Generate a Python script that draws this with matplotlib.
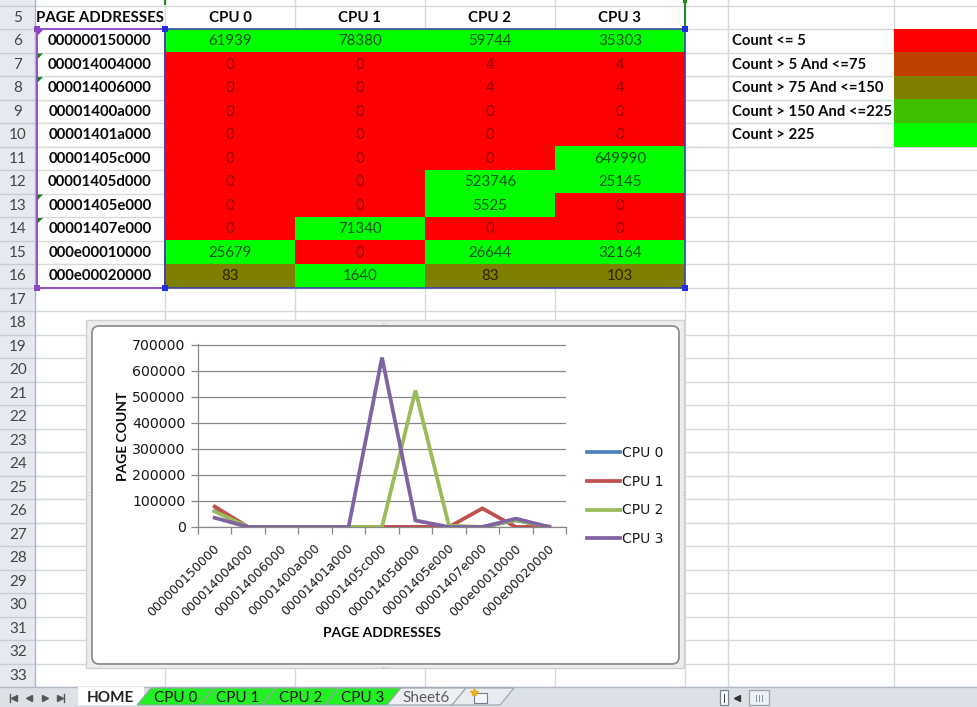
import matplotlib
matplotlib.use("Agg")
import matplotlib.pyplot as plt
from matplotlib.patches import Rectangle, Polygon, FancyBboxPatch
import matplotlib.transforms as mtransforms

# ---------------- data ----------------
addresses = ["000000150000", "000014004000", "000014006000", "00001400a000",
             "00001401a000", "00001405c000", "00001405d000", "00001405e000",
             "00001407e000", "000e00010000", "000e00020000"]
cpu_names = ["CPU 0", "CPU 1", "CPU 2", "CPU 3"]
cpu0 = [61939, 0, 0, 0, 0, 0, 0, 0, 0, 25679, 83]
cpu1 = [78380, 0, 0, 0, 0, 0, 0, 0, 71340, 0, 1640]
cpu2 = [59744, 4, 4, 0, 0, 0, 523746, 5525, 0, 26644, 83]
cpu3 = [35303, 4, 4, 0, 0, 649990, 25145, 0, 0, 32164, 103]
cpu_values = [cpu0, cpu1, cpu2, cpu3]
line_colors = ["#4F81BD", "#C0504D", "#9BBB59", "#8064A2"]

band_labels = ["Count <= 5", "Count > 5 And <=75", "Count > 75 And <=150",
               "Count > 150 And <=225", "Count > 225"]
band_upper = [5, 75, 150, 225]
band_colors = ["#FF0000", "#C04000", "#808000", "#40BF00", "#00FF00"]
band_text = ["#8A0000", "#4A1800", "#262600", "#124000", "#145214"]

y_ticks = [0, 100000, 200000, 300000, 400000, 500000, 600000, 700000]
sheet_tabs = ["HOME", "CPU 0", "CPU 1", "CPU 2", "CPU 3", "Sheet6"]
tab_colors = ["#FFFFFF", "#22F022", "#22F022", "#22F022", "#22F022", "#EEF0F3"]

FONT = "Lato"
CELL_FS = 10.8


def band_of(v):
    for i, up in enumerate(band_upper):
        if v <= up:
            return i
    return len(band_upper)


W, H = 977, 707
fig = plt.figure(figsize=(W / 100, H / 100), dpi=100)
bg = fig.add_axes([0, 0, 1, 1])
bg.set_xlim(0, W)
bg.set_ylim(H, 0)
bg.axis("off")

# ---------------- sheet grid ----------------
ROW_H = 23.5


def row_top(r):
    return 29 + (r - 6) * ROW_H


col_edges = [35, 165, 295, 425, 555, 685, 728, 894]
grid_c = "#D5D8DC"
sheet_bottom = row_top(34)

bg.add_patch(Rectangle((0, 0), 35, sheet_bottom, facecolor="#E6EAF0",
                       edgecolor="none", zorder=0))
for r in range(5, 35):
    y = row_top(r)
    bg.plot([35, W], [y, y], color=grid_c, lw=1, zorder=1)
    bg.plot([0, 35], [y, y], color="#C6CDD7", lw=1, zorder=1)
for x in col_edges[1:]:
    bg.plot([x, x], [0, sheet_bottom], color=grid_c, lw=1, zorder=1)
bg.plot([35, 35], [0, sheet_bottom], color="#AAB4C2", lw=1, zorder=1)
for r in range(5, 34):
    bg.text(18, row_top(r) + ROW_H / 2 + 0.5, str(r), ha="center", va="center",
            fontsize=11, family=FONT, color="#444444", zorder=2)

# header row
hy = row_top(5) + ROW_H / 2 + 0.5
bg.text(100, hy, "PAGE ADDRESSES", ha="center", va="center", fontsize=CELL_FS,
        family=FONT, weight="bold", color="#0A0A0A", zorder=3)
for j, name in enumerate(cpu_names):
    cx = (col_edges[j + 1] + col_edges[j + 2]) / 2
    bg.text(cx, hy, name, ha="center", va="center", fontsize=CELL_FS,
            family=FONT, weight="bold", color="#0A0A0A", zorder=3)

# address column + coloured count cells
for i, addr in enumerate(addresses):
    r = 6 + i
    y0 = row_top(r)
    bg.text(100, y0 + ROW_H / 2 + 0.5, addr, ha="center", va="center",
            fontsize=CELL_FS, family=FONT, weight="bold", color="#0A0A0A",
            zorder=3)
    for j, vals in enumerate(cpu_values):
        x0 = col_edges[j + 1]
        b = band_of(vals[i])
        bg.add_patch(Rectangle((x0, y0 - 0.5), 130, ROW_H + 1,
                               facecolor=band_colors[b], edgecolor="none",
                               zorder=2))
        bg.text(x0 + 65, y0 + ROW_H / 2 + 0.5, str(vals[i]), ha="center",
                va="center", fontsize=CELL_FS, family=FONT,
                color=band_text[b], zorder=3)

# error-indicator triangles on text-stored cells
for r in (7, 8, 13, 14):
    y0 = row_top(r)
    bg.add_patch(Polygon([(37, y0 + 1), (43, y0 + 1), (37, y0 + 7)],
                         closed=True, facecolor="#1E7B1E", edgecolor="none",
                         zorder=4))
bg.add_patch(Polygon([(37, row_top(6) + 1), (43, row_top(6) + 1),
                      (37, row_top(6) + 7)], closed=True,
                     facecolor="#7F3FBF", edgecolor="none", zorder=4))

# range highlight borders
t6, b16 = row_top(6), row_top(17)
bg.add_patch(Rectangle((37, t6), 128, b16 - t6, facecolor="none",
                       edgecolor="#8E44C4", lw=1.3, zorder=5))
bg.add_patch(Rectangle((165, t6), 520, b16 - t6, facecolor="none",
                       edgecolor="#3A3AB0", lw=1.1, zorder=5))
for (hx, hyy, hc) in [(37, t6, "#8E44C4"), (37, b16, "#8E44C4"),
                      (165, t6, "#2030E0"), (685, t6, "#2030E0"),
                      (165, b16, "#2030E0"), (685, b16, "#2030E0")]:
    bg.add_patch(Rectangle((hx - 3, hyy - 3), 6, 6, facecolor=hc,
                           edgecolor="none", zorder=6))
bg.plot([685, 685], [0, t6 - 3], color="#1E8A1E", lw=1.5, zorder=5)
bg.add_patch(Rectangle((683, 0), 4, 3, facecolor="#1E8A1E", zorder=6))
bg.plot([165, 165], [0, 4], color="#1E8A1E", lw=1.5, zorder=5)

# colour key
for k, lab in enumerate(band_labels):
    y0 = row_top(6 + k)
    bg.text(732, y0 + ROW_H / 2 + 0.5, lab, ha="left", va="center",
            fontsize=10.7, family=FONT, weight="bold", color="#0A0A0A",
            zorder=3)
    bg.add_patch(Rectangle((894, y0 - 0.5), W - 894, ROW_H + 1,
                           facecolor=band_colors[k], edgecolor="none",
                           zorder=2))

# ---------------- chart frame ----------------
bg.add_patch(Rectangle((86, 320), 598, 348, facecolor="#EDEDED",
                       edgecolor="#D0D0D0", lw=1, zorder=7))
bg.add_patch(FancyBboxPatch((92, 326), 587, 338,
                            boxstyle="round,pad=0,rounding_size=7",
                            facecolor="white", edgecolor="#8F8F8F", lw=1.3,
                            zorder=8))
for (dx, dy) in [(385, 322), (385, 666)]:
    bg.text(dx, dy, "....", ha="center", va="center", fontsize=4,
            color="#A0A0A0", zorder=9)
for (dx, dy) in [(88, 494), (682, 494)]:
    bg.text(dx, dy, ":", ha="center", va="center", fontsize=5,
            color="#A0A0A0", zorder=9)

# ---------------- line chart ----------------
pl, pr, pt, pb = 198, 566, 344, 527
ax = fig.add_axes([pl / W, 1 - pb / H, (pr - pl) / W, (pb - pt) / H])
ax.set_zorder(10)
ax.patch.set_alpha(0)
xs = list(range(len(addresses)))
for name, vals, c in zip(cpu_names, cpu_values, line_colors):
    ax.plot(xs, vals, color=c, lw=2.7, label=name, solid_joinstyle="miter",
            zorder=3)

ax.set_xlim(-0.5, len(addresses) - 0.5)
ax.set_ylim(0, 702000)
ax.set_yticks(y_ticks)
ax.set_yticklabels([str(v) for v in y_ticks], fontsize=10.2,
                   family="DejaVu Sans", color="#1A1A1A")
ax.yaxis.grid(True, color="#888888", lw=0.9)
ax.set_axisbelow(True)
ax.tick_params(axis="y", length=5, width=0.9, color="#888888", pad=4)

ax.set_xticks(xs)
ax.set_xticks([x - 0.5 for x in range(len(addresses) + 1)], minor=True)
ax.set_xticklabels(addresses, rotation=45, ha="right", va="center",
                   rotation_mode="anchor", fontsize=9,
                   family="DejaVu Sans", color="#1A1A1A")
ax.tick_params(axis="x", which="major", length=0, pad=14)
ax.tick_params(axis="x", which="minor", length=5, width=0.9, color="#888888")
shift = mtransforms.ScaledTranslation(3 / 100, 0, fig.dpi_scale_trans)
for lbl in ax.get_xticklabels():
    lbl.set_transform(lbl.get_transform() + shift)

for s in ("top", "right"):
    ax.spines[s].set_visible(False)
for s in ("left", "bottom"):
    ax.spines[s].set_color("#888888")
    ax.spines[s].set_linewidth(0.9)

ax.set_ylabel("PAGE COUNT", family=FONT, weight="bold", fontsize=10,
              color="#0A0A0A")
ax.yaxis.set_label_coords((129 - pl) / (pr - pl), (pb - 436) / (pb - pt))
ax.set_xlabel("PAGE ADDRESSES", family=FONT, weight="bold", fontsize=10,
              color="#0A0A0A")
ax.xaxis.set_label_coords((382 - pl) / (pr - pl), (pb - 627) / (pb - pt))

leg = fig.legend(loc="upper left", bbox_to_anchor=(587 / W, 1 - 446 / H),
                 frameon=False, prop={"family": "DejaVu Sans", "size": 10},
                 handlelength=2.4, handletextpad=0.1, labelspacing=1.06,
                 borderpad=0, borderaxespad=0)
for t in leg.get_texts():
    t.set_color("#1A1A1A")
leg.set_zorder(11)

# ---------------- sheet tab bar ----------------
bar_top = sheet_bottom
bg.add_patch(Rectangle((0, bar_top), W, H - bar_top, facecolor="#DCE1E8",
                       edgecolor="none", zorder=12))
bg.plot([0, W], [bar_top, bar_top], color="#B3BBC6", lw=1, zorder=13)
mid = (bar_top + H) / 2 + 0.5

# navigation buttons
bg.plot([10, 10], [mid - 4, mid + 4], color="#555555", lw=1, zorder=13)
bg.plot([14], [mid], marker="<", ms=4, color="#555555", zorder=13)
bg.plot([29], [mid], marker="<", ms=4, color="#555555", zorder=13)
bg.plot([45], [mid], marker=">", ms=4, color="#555555", zorder=13)
bg.plot([60], [mid], marker=">", ms=4, color="#555555", zorder=13)
bg.plot([64, 64], [mid - 4, mid + 4], color="#555555", lw=1, zorder=13)

tab_edges = [137, 200, 262, 325, 387, 452, 500]
slant = 14
bg.add_patch(Rectangle((78, bar_top), tab_edges[0] - 78 + slant / 2,
                       H - bar_top - 2, facecolor="white", edgecolor="none",
                       zorder=13))
bg.text(110, mid, sheet_tabs[0], ha="center", va="center", fontsize=11,
        family=FONT, weight="bold", color="#222222", zorder=15)
for k in range(1, len(sheet_tabs)):
    x0, x1 = tab_edges[k - 1], tab_edges[k]
    poly = [(x0, H - 2), (x0 + slant, bar_top + 1), (x1 + slant, bar_top + 1),
            (x1, H - 2)]
    bg.add_patch(Polygon(poly, closed=True, facecolor=tab_colors[k],
                         edgecolor="#9AA3AF", lw=0.8, zorder=13))
    bg.text((x0 + x1) / 2 + slant / 2, mid, sheet_tabs[k], ha="center",
            va="center", fontsize=11, family=FONT,
            color="#1A1A1A" if k < 5 else "#5A5A5A", zorder=15)
# new-sheet tab
bg.add_patch(Polygon([(tab_edges[-2], H - 2), (tab_edges[-2] + slant, bar_top + 1),
                      (tab_edges[-1] + slant, bar_top + 1), (tab_edges[-1], H - 2)],
                     closed=True, facecolor="#E8EBEF", edgecolor="#9AA3AF",
                     lw=0.8, zorder=13))
bg.add_patch(Rectangle((474, mid - 5), 13, 10, facecolor="#F4F6F9",
                       edgecolor="#6E7E96", lw=0.8, zorder=14))
bg.plot([474], [mid - 6], marker="*", ms=6, color="#E8B020", zorder=15)

# horizontal scroll controls
bg.add_patch(Rectangle((720, bar_top + 3), 8, 15, facecolor="white",
                       edgecolor="#7A8594", lw=0.9, zorder=14))
bg.plot([724, 724], [mid - 4, mid + 4], color="#444444", lw=0.8, zorder=15)
bg.plot([737], [mid], marker="<", ms=4, color="#333333", zorder=15)
bg.add_patch(Rectangle((749, bar_top + 3), 20, 15, facecolor="#EEF1F5",
                       edgecolor="#9AA3AF", lw=0.9, zorder=14))
for gx in (756, 759, 762):
    bg.plot([gx, gx], [mid - 3, mid + 3], color="#8090A4", lw=0.7, zorder=15)

fig.savefig("out.png", dpi=100)
